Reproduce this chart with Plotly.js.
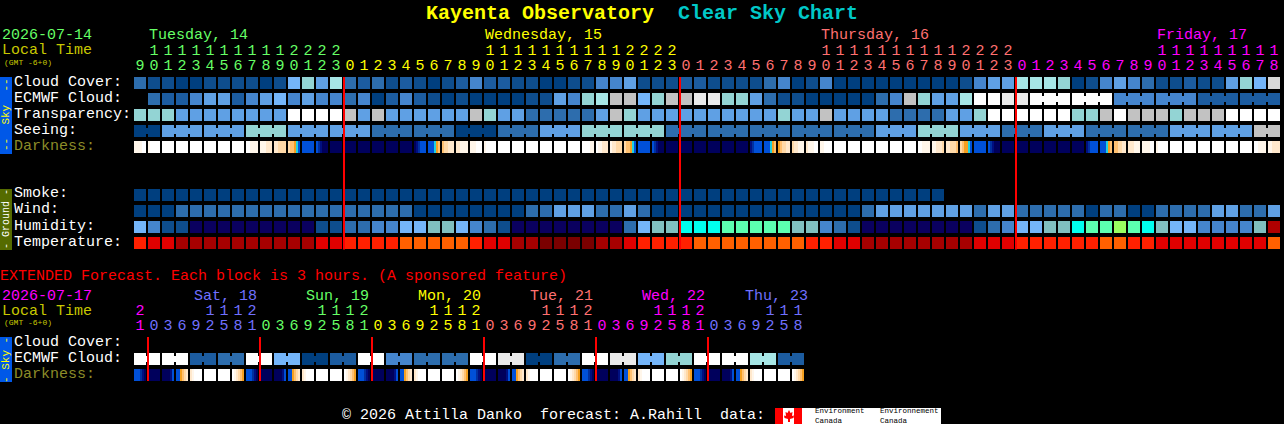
<!DOCTYPE html>
<html><head><meta charset="utf-8">
<script src="https://cdn.plot.ly/plotly-3.0.1.min.js"></script>
<style>html,body{margin:0;padding:0;background:#000}#c{width:1284px;height:424px}</style>
</head><body><div id="c"></div>
<script>
// ---------- colour tables ----------
const skyColors = ['#003f7f','#0e4d8d','#1c5ca0','#2d6dad','#4585cd','#5fa0e4','#74b5f9','#80bfbf','#93d4d4','#a6e6e6',
  '#c2c2c2','#eaeaea','#ffffff','#0a005f','#00ffee','#5cffb0','#99ff60','#b00000','#d8d8d8'];
const tempColors = ['#7a0000','#a60000','#e00000','#ff2000','#ff6000'];
const darkColors = ['#ffffff','#fff6ea','#ffe8cc','#ffd9a8','#ffc070','#f5a020','#20d0e0','#0050d8','#0030a0','#000f80','#00005c'];

// ---------- hourly series (index into the colour tables) ----------
const cloudCover = [3,1,1,0,0,1,1,1,1,0,1,6,8,5,9, 3,2,3,1,2,1,0,1,2,4,2,2,1,1,0,0,1,1,4,4,5,1,1,1,
  2,2,1,1,1,1,3,4,0,1,4,0,0,0,0,0,0,0,0,0,1,4,5,5, 9,9,9,8,0,1,4,5,4,3,1,1,2,1,1,5,8,6,18];
const ecmwfCloud = [null,3,2,2,4,5,5,2,4,5,6,4,5,4,4,3,4,0,2,4,2, 1,0,1,0,0,0,0,1,1,5,4,8,9,10,10,6,8,10,10,11,11,8,8,5,3,1,1,0,0,0,0,
  0,3,4,10,8,5,5,9,12,12,11,11, 12,12,12,12,12,12,4,4,4,4,4,4,2,2,2,2,2,2];
const transparency = [8,8,8,5,5,5,5,5,5,5,5,12,12,12,12, 10,5,10,5,5,5,5,5,5,10,8,5,5,3,3,3,3,3,5,10,8,5,5,5,
  5,5,5,5,5,5,5,8,5,5,10,5,5,5,5,3,3,3,3,5,5,8,12,12, 12,12,12,12,8,8,10,12,10,10,10,8,10,10,10,12,12,12,12];
const seeing = [0,0,5,5,5,5,5,5,8,8,8,5,5,5,5,5,5,3,3,3,3,3,3,0,0,0,3,3,3,5,5,5,8,8,8,8,8,8,3,3,3,
  3,3,3,3,3,3,3,3,3,3,3,3,5,5,5,8,8,8,5,5,5,3,3,3,5,5,5,3,3,3,3,3,3,5,5,5,5,5,5,10,10];
const darkness = ['111100','100000','0','0','0','0','0','0','001111','111222','223333','344567','7','789aaa','a',
  'a','a','a','a','a','a98777','777654','433222','221111','111000','100000','0','0','0','0','0','0','000011','011222','122333','344567','7','789aaa','a',
  'a','a','a','a','a','987777','777654','543322','322111','211100','110000','0','0','0','0','0','0','001111','112223','223334','345567','7','789aaa','a',
  'a','a','a','a','a','987777','777654','443322','222111','111100','100000','0','0','0','0','0','0','001111','112222'];
const smoke = [0,0,0,0,0,0,0,0,0,0,0,0,0,0,0,0,0,0,0,0,0,0,0,0,0,0,0,0,0,0,0,0,0,0,0,0,0,0,0,0,0,0,0,0,0,0,0,0,0,0,0,0,0,0,0,0,0,0];
const wind = [0,0,0,3,3,3,3,3,3,3,3,3,3,3,3,3,3,3,3,3,0, 0,0,0,0,0,0,0,3,3,5,5,5,3,3,5,3,0,0,0,0,0,0,0,0,0,0,0,0,0,0,0,
  3,5,5,5,5,5,5,5,3,5,5,3,3,3,3,3,0,3,3,0,0,3,3,3,3,5,5,3,3,5];
const humidity = [6,4,1,1,13,13,13,13,13,13,13,13,13,1,1,3,3,4,4,6,6, 7,7,6,4,3,1,13,13,13,13,13,13,13,13,3,6,7,7,14,14,14,15,15,15,15,15,7,7,4,3,1,
  13,13,13,13,13,13,13,13,1,3,4,6,6,7,7,14,15,15,16,15,14,7,6,6,4,4,4,4,7,17];
const temperature = [3,2,2,1,1,1,1,1,1,1,1,1,1,2,2,3,3,3,3,4,4, 4,4,4,3,2,2,1,1,0,0,0,0,1,1,2,3,3,3,3,4,4,4,4,4,4,4,4,3,3,2,2,
  1,1,1,1,1,1,1,1,2,2,2,3,3,3,3,3,3,4,4,3,3,2,2,2,2,2,2,2,2,4];

// ---------- extended (3-hour) series ----------
const extEcmwf = [12,12,12,12,2,2,3,3,12,12,6,6,0,0,2,2,12,12,4,4,3,3,3,3,12,12,11,11,0,0,3,3,12,12,11,11,6,6,8,8,12,12,12,12,9,9,2,2];
const extDarkness = ['77789a','a','aaaa97','775432','210000','0','0','012345',
  '77789a','a','aaaa97','775432','210000','0','0','012345',
  '77789a','a','aaaa97','775432','210000','0','0','012345',
  '77789a','a','aaaa97','775432','210000','0','0','012345',
  '77789a','a','aaaa97','775432','210000','0','0','012345',
  '77789a','a','aaaa97','775432','210000','0','0','012345'];

// ---------- tick labels ----------
const hours = [9,10,11,12,13,14,15,16,17,18,19,20,21,22,23,
  0,1,2,3,4,5,6,7,8,9,10,11,12,13,14,15,16,17,18,19,20,21,22,23,
  0,1,2,3,4,5,6,7,8,9,10,11,12,13,14,15,16,17,18,19,20,21,22,23,
  0,1,2,3,4,5,6,7,8,9,10,11,12,13,14,15,16,17,18];
const hourColors = ['#66ff66','#ffff00','#ff7070','#ff00ff'];
const extHours = [21,0,3,6,9,12,15,18,21,0,3,6,9,12,15,18,21,0,3,6,9,12,15,18,21,0,3,6,9,12,15,18,21,0,3,6,9,12,15,18,21,0,3,6,9,12,15,18];
const extColors = ['#ff00ff','#7070ff','#66ff66','#ffff00','#ff7070','#ff00ff','#7070ff'];
const dayLabels = ['Tuesday, 14','Wednesday, 15','Thursday, 16','Friday, 17'];
const extDayLabels = ['Sat, 18','Sun, 19','Mon, 20','Tue, 21','Wed, 22','Thu, 23'];

// ---------- helpers ----------
const W = 1284, H = 424;
const MONO = '"Liberation Mono", monospace';
const traces = [];
function scale(pal){const n=pal.length,s=[];pal.forEach((c,k)=>{s.push([k/n,c]);s.push([(k+1)/n,c]);});return s;}
function row(series,pal,y){
  traces.push({type:'heatmap',x:series.map((_,i)=>i),y:[y],z:[series],xgap:2,ygap:4,showscale:false,hoverinfo:'skip',
    zmin:-0.5,zmax:pal.length-0.5,colorscale:scale(pal)});
}
function darkRow(series,y){
  const x=[],z=[];
  series.forEach((s,i)=>{
    for(let k=0;k<7;k++){
      x.push(i-3/7+(k+0.5)/7);
      if(k===6){z.push(null);continue;}
      z.push(parseInt(s.length===1?s:s[k],16));
    }
  });
  traces.push({type:'heatmap',x:x,y:[y],z:[z],ygap:4,showscale:false,hoverinfo:'skip',
    zmin:-0.5,zmax:darkColors.length-0.5,colorscale:scale(darkColors)});
}
function links(series,pal,y,group){
  series.forEach((v,i)=>{
    if(i+1<series.length&&v!==null&&group(i)!==null&&group(i)===group(i+1)&&series[i+1]===v){
      traces.push({type:'scatter',mode:'lines',x:[i+0.4,i+0.6],y:[y,y],line:{color:pal[v],width:6},hoverinfo:'skip',showlegend:false});
    }
  });
}
const pxRow = py => (py-83)/16;
function ticks(vals,cols,unitsPx,tensPx){
  traces.push({type:'scatter',mode:'text',x:vals.map((_,i)=>i),y:vals.map(()=>pxRow(unitsPx)),text:vals.map(v=>String(v%10)),
    textposition:'middle center',textfont:{family:MONO,size:15,color:cols},hoverinfo:'skip',showlegend:false});
  const idx=vals.map((v,i)=>v>=10?i:-1).filter(i=>i>=0);
  traces.push({type:'scatter',mode:'text',x:idx,y:idx.map(()=>pxRow(tensPx)),text:idx.map(i=>String(Math.floor(vals[i]/10))),
    textposition:'middle center',textfont:{family:MONO,size:15,color:idx.map(i=>cols[i])},hoverinfo:'skip',showlegend:false});
}
function midnightLines(idx,y0,y1){
  idx.forEach(m=>traces.push({type:'scatter',mode:'lines',x:[m-3/7,m-3/7],y:[y0,y1],line:{color:'#ff0000',width:2},hoverinfo:'skip',showlegend:false}));
}

// ---------- rows ----------
row(cloudCover,skyColors,0);
row(ecmwfCloud,skyColors,1);
row(transparency,skyColors,2);
row(seeing,skyColors,3);
darkRow(darkness,4);
row(smoke,skyColors,7);
row(wind,skyColors,8);
row(humidity,skyColors,9);
row(temperature,tempColors,10);
row(extEcmwf,skyColors,17.25);
darkRow(extDarkness,18.25);
links(seeing,skyColors,3,i=>Math.floor((i-2)/3));
links(ecmwfCloud,skyColors,1,i=>i>=64?Math.floor((i-64)/3):null);
links(extEcmwf,skyColors,17.25,i=>Math.floor(i/2));

let d=0;
ticks(hours,hours.map((h,i)=>{if(i>0&&h===0)d++;return hourColors[d];}),66,51);
d=0;
ticks(extHours,extHours.map((h,i)=>{if(h===0)d++;return extColors[d];}),326,311);
midnightLines(hours.map((h,i)=>h===0?i:-1).filter(i=>i>=0),-0.375,10.4);
midnightLines(extHours.map((h,i)=>h===0?i:-1).filter(i=>i>=0),15.875,18.625);

// ---------- text ----------
const ann=[];
function txt(px,py,text,color,size,opt){
  ann.push(Object.assign({xref:'paper',yref:'paper',x:px/W,y:1-py/H,text:text,showarrow:false,xanchor:'left',yanchor:'middle',
    borderpad:0,borderwidth:0,font:{family:MONO,size:size||15,color:color}},opt||{}));
}
txt(2,36,'2026-07-14','#66ff66');
txt(2,51,'Local Time','#c8c800');
txt(4,62,'(GMT -6+0)','#c8c800',8);
[149,485,821,1157].forEach((x,i)=>txt(x,36,dayLabels[i],hourColors[i]));
[['Cloud Cover:',82],['ECMWF Cloud:',98],['Transparency:',114],['Seeing:',130],['Smoke:',194],['Wind:',210],['Humidity:',226],['Temperature:',242],['Cloud Cover:',342],['ECMWF Cloud:',358]]
  .forEach(a=>txt(14,a[1],a[0],'#ffffff'));
txt(14,146,'Darkness:','#8c8c28');
txt(14,374,'Darkness:','#8c8c28');
txt(0,276.5,'EXTENDED Forecast. Each block is 3 hours. (A sponsored feature)','#ff0000');
txt(2,296,'2026-07-17','#ff00ff');
txt(2,311,'Local Time','#c8c800');
txt(4,322,'(GMT -6+0)','#c8c800',8);
[194,306,418,530,642,745].forEach((x,i)=>txt(x,296,extDayLabels[i],extColors[i+1]));
txt(342,415,'\u00a9 2026 Attilla Danko\u00a0\u00a0forecast: A.Rahill\u00a0\u00a0data:','#ffffff');
const v={xanchor:'center',textangle:-90};
txt(6,115,'--\u00a0\u00a0Sky\u00a0\u00a0--','#ffff00',11,v);
txt(6,219,'-\u00a0Ground\u00a0-','#ffffff',10,v);
txt(6,360,'-\u00a0Sky\u00a0-','#ffff00',11,v);
txt(815,415.5,'Environment<br>Canada','#000000',7.5,{align:'left'});
txt(880,415.5,'Environnement<br>Canada','#000000',7.5,{align:'left'});

// ---------- side bars and logo ----------
function box(x0,y0,x1,y1,c){return {type:'rect',xref:'paper',yref:'paper',x0:x0/W,x1:x1/W,y0:1-y0/H,y1:1-y1/H,fillcolor:c,line:{width:0},layer:'below'};}
const leaf=[[789,410],[790.5,413],[792.5,412],[792,416],[794,415.5],[793.5,418],[790,419],[790,422],[788,422],[788,419],[784.5,418],[784,415.5],[786,416],[785.5,412],[787.5,413]];
const shapes=[
  box(0,77,12,154,'#0058e8'),box(0,189,12,250,'#556b00'),box(0,337,12,382,'#0058e8'),
  box(775,408,941,424,'#ffffff'),box(775,408,783,424,'#ff0000'),box(794,408,802,424,'#ff0000'),
  {type:'path',xref:'paper',yref:'paper',fillcolor:'#ff0000',line:{width:0},layer:'below',
   path:'M'+leaf.map(p=>(p[0]/W)+','+(1-p[1]/H)).join('L')+'Z'}
];

Plotly.newPlot('c',traces,{
  width:W,height:H,margin:{l:0,r:0,t:0,b:0,pad:0},autosize:false,showlegend:false,
  paper_bgcolor:'#000',plot_bgcolor:'#000',
  title:{text:'<b><span style="color:#ffff00">Kayenta Observatory</span>&nbsp;&nbsp;<span style="color:#00c8c8">Clear Sky Chart</span></b>',
    x:0.5,xref:'paper',xanchor:'center',y:1-11.5/H,yref:'paper',yanchor:'middle',font:{family:MONO,size:20,color:'#ffff00'},automargin:false},
  xaxis:{range:[-10,(W-140)/14],visible:false,fixedrange:true},
  yaxis:{range:[(H-83)/16,-83/16],visible:false,fixedrange:true},
  annotations:ann,shapes:shapes
},{staticPlot:true,displayModeBar:false,responsive:false});
</script></body></html>
